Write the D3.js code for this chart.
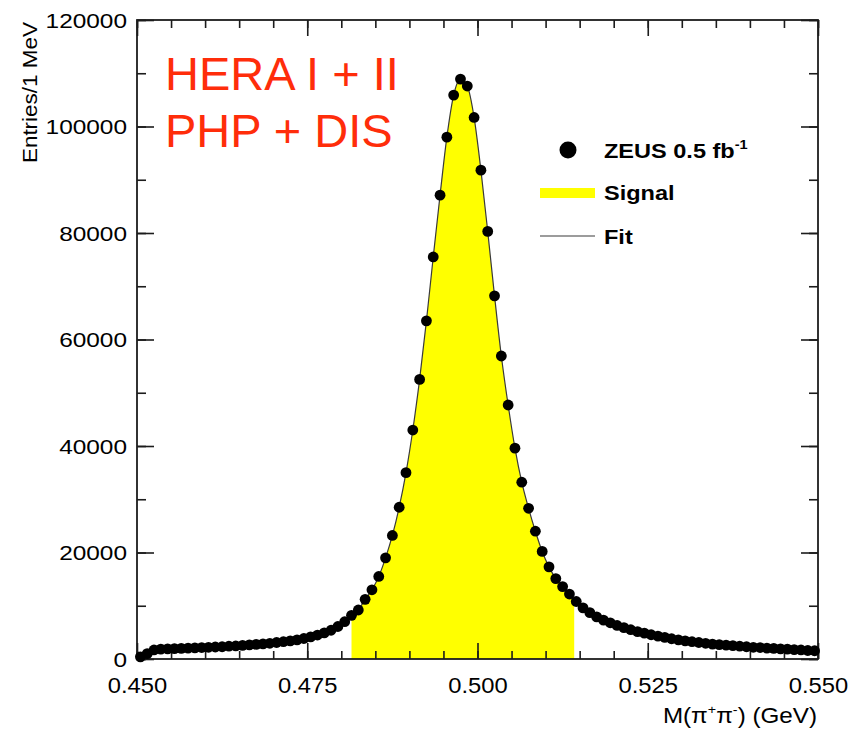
<!DOCTYPE html>
<html>
<head>
<meta charset="utf-8">
<script src="https://cdn.jsdelivr.net/npm/d3@7"></script>
<style>
  html, body { margin: 0; padding: 0; background: #fff; }
  svg { display: block; font-family: "Liberation Sans", Arial, Helvetica, sans-serif; }
</style>
</head>
<body>
<svg id="chart" width="852" height="729"></svg>
<script>
// K0s -> pi+ pi- invariant mass, 1 MeV bins from 0.450 to 0.550 GeV
const binLow = 0.450;
const binWidth = 0.001;
const counts = [
  400, 1000, 1700, 1850, 1900, 1950, 2000, 2050, 2100, 2150,
  2200, 2250, 2300, 2400, 2450, 2550, 2650, 2750, 2850, 2950,
  3100, 3250, 3400, 3600, 3850, 4150, 4500, 4900, 5400, 6100,
  7000, 8200, 9200, 11200, 13000, 15500, 19000, 23200, 28500, 35000,
  43000, 52500, 63500, 75500, 87100, 98000, 105900, 108900, 107600, 101700,
  91800, 80300, 68200, 56900, 47700, 39600, 33200, 28300, 24000, 20200,
  17300, 15100, 13600, 12200, 10800, 9600, 8700, 7900, 7300, 6800,
  6300, 5900, 5500, 5150, 4850, 4550, 4300, 4050, 3800, 3600,
  3400, 3250, 3100, 2950, 2800, 2700, 2600, 2500, 2400, 2300,
  2200, 2150, 2050, 2000, 1900, 1850, 1750, 1700, 1600, 1550
];
// signal window (GeV)
const signalWindow = [0.4815, 0.5142];

const xDomain = [0.450, 0.550];
const yDomain = [0, 120000];
const xMajorTicks = [0.450, 0.475, 0.500, 0.525, 0.550];
const yMajorTicks = [0, 20000, 40000, 60000, 80000, 100000, 120000];

const legendLabels = ["ZEUS 0.5 fb", "Signal", "Fit"];
const titleLines = ["HERA I + II", "PHP + DIS"];

const points = counts.map((c, i) => ({ m: binLow + binWidth * (i + 0.5), n: c }));

const svg = d3.select("#chart");
const L = 137, R = 818, T = 20, B = 659;
const x = d3.scaleLinear().domain(xDomain).range([L, R]);
const y = d3.scaleLinear().domain(yDomain).range([B, T]);

// widen text horizontally to the drawn proportions
function stretch(sel, k) {
  sel.each(function () {
    const len = this.getComputedTextLength();
    d3.select(this).attr("textLength", len * k).attr("lengthAdjust", "spacingAndGlyphs");
  });
}

// signal area under the fit, clipped to the signal window
svg.append("clipPath").attr("id", "sigclip")
  .append("rect")
  .attr("x", x(signalWindow[0])).attr("y", T)
  .attr("width", x(signalWindow[1]) - x(signalWindow[0]))
  .attr("height", B - T);

const fitCurve = d3.curveMonotoneX;
svg.append("path")
  .datum(points)
  .attr("clip-path", "url(#sigclip)")
  .attr("fill", "#ffff00")
  .attr("d", d3.area().curve(fitCurve).x(d => x(d.m)).y0(y(0)).y1(d => y(d.n)));

// fit line
svg.append("path")
  .datum(points)
  .attr("fill", "none")
  .attr("stroke", "#3a3a3a")
  .attr("stroke-width", 1.2)
  .attr("d", d3.line().curve(fitCurve).x(d => x(d.m)).y(d => y(d.n)));

// axes: ticks drawn inward on all four sides
const xMinor = d3.range(0, 21).map(i => 0.450 + i * 0.005);
const yMinor = d3.range(0, 13).map(i => i * 10000);
const axisColor = "#1c1c1c";

function tickAxis(axisFn, scale, values, size, pos) {
  const g = svg.append("g")
    .attr("transform", pos)
    .call(axisFn(scale).tickValues(values).tickSize(size).tickFormat(""));
  g.select(".domain").remove();
  g.selectAll(".tick line").attr("stroke", axisColor).attr("stroke-width", 1.6);
  return g;
}
tickAxis(d3.axisBottom, x, xMinor, -8, `translate(0,${B})`);
tickAxis(d3.axisBottom, x, xMajorTicks, -16, `translate(0,${B})`);
tickAxis(d3.axisTop, x, xMinor, -8, `translate(0,${T})`);
tickAxis(d3.axisTop, x, xMajorTicks, -16, `translate(0,${T})`);
tickAxis(d3.axisLeft, y, yMinor, -9, `translate(${L},0)`);
tickAxis(d3.axisLeft, y, yMajorTicks, -17, `translate(${L},0)`);
tickAxis(d3.axisRight, y, yMinor, -9, `translate(${R},0)`);
tickAxis(d3.axisRight, y, yMajorTicks, -17, `translate(${R},0)`);

// frame
svg.append("rect")
  .attr("x", L).attr("y", T).attr("width", R - L).attr("height", B - T)
  .attr("fill", "none").attr("stroke", axisColor).attr("stroke-width", 1.8);

// tick labels
const xLab = svg.append("g")
  .attr("transform", `translate(0,${B})`)
  .call(d3.axisBottom(x).tickValues(xMajorTicks).tickSize(0).tickPadding(0).tickFormat(d3.format(".3f")));
xLab.select(".domain").remove();
xLab.selectAll("text")
  .attr("y", 34).attr("dy", null)
  .attr("font-size", 22).attr("fill", "#000")
  .attr("font-family", "Liberation Sans, Arial, sans-serif")
  .call(stretch, 1.08);

const yLab = svg.append("g")
  .attr("transform", `translate(${L},0)`)
  .call(d3.axisLeft(y).tickValues(yMajorTicks).tickSize(0).tickPadding(10).tickFormat(d3.format("d")));
yLab.select(".domain").remove();
yLab.selectAll("text")
  .attr("dy", "0.36em")
  .attr("font-size", 20).attr("fill", "#000")
  .attr("font-family", "Liberation Sans, Arial, sans-serif")
  .call(stretch, 1.22);

// axis titles
const xt = svg.append("text")
  .attr("x", 817).attr("y", 723)
  .attr("text-anchor", "end")
  .attr("font-size", 22).attr("fill", "#000");
xt.append("tspan").text("M(π");
xt.append("tspan").attr("dy", -9).attr("font-size", 13).text("+");
xt.append("tspan").attr("dy", 9).text("π");
xt.append("tspan").attr("dy", -9).attr("font-size", 13).text("-");
xt.append("tspan").attr("dy", 9).text(") (GeV)");
xt.call(stretch, 1.1);

svg.append("text")
  .attr("transform", "translate(37,22) rotate(-90)")
  .attr("text-anchor", "end")
  .attr("font-size", 21).attr("fill", "#000")
  .text("Entries/1 MeV")
  .call(stretch, 1.07);

// data points
svg.append("g").selectAll("circle")
  .data(points)
  .join("circle")
  .attr("cx", d => x(d.m))
  .attr("cy", d => y(d.n))
  .attr("r", 5.4)
  .attr("fill", "#000");

// headline
svg.append("g").selectAll("text")
  .data(titleLines)
  .join("text")
  .attr("x", 165)
  .attr("y", (d, i) => 90 + i * 57)
  .attr("font-size", 47)
  .attr("fill", "#ff2d0a")
  .text(d => d);

// legend
const lg = svg.append("g").attr("font-weight", "bold").attr("font-size", 21).attr("fill", "#000");
lg.append("circle").attr("cx", 568).attr("cy", 150).attr("r", 8.5).attr("fill", "#000");
const t0 = lg.append("text").attr("x", 604).attr("y", 158);
t0.append("tspan").text(legendLabels[0]);
t0.append("tspan").attr("dy", -9).attr("font-size", 13).text("-1");
t0.call(stretch, 1.12);
lg.append("rect").attr("x", 540).attr("y", 188).attr("width", 55).attr("height", 10).attr("fill", "#ffff00");
lg.append("text").attr("x", 604).attr("y", 200).text(legendLabels[1]).call(stretch, 1.12);
lg.append("line").attr("x1", 540).attr("x2", 595).attr("y1", 236).attr("y2", 236)
  .attr("stroke", "#3a3a3a").attr("stroke-width", 1.2);
lg.append("text").attr("x", 604).attr("y", 244).text(legendLabels[2]).call(stretch, 1.12);
</script>
</body>
</html>
